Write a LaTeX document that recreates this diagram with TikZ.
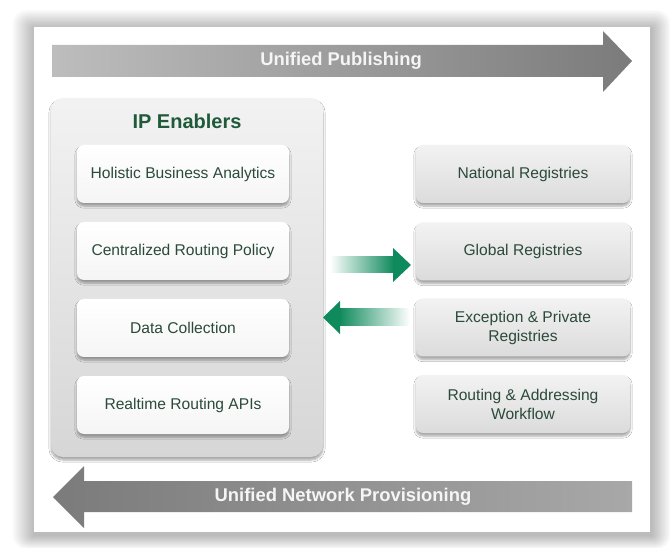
\documentclass[tikz,border=0pt]{standalone}
\usepackage{fontspec}
\setmainfont{Liberation Sans}
\usetikzlibrary{shadows.blur}
\definecolor{boxtext}{HTML}{2B4A3A}
\definecolor{titlegreen}{HTML}{1F5A3A}
\definecolor{arrgreen}{HTML}{0E8A5C}
\definecolor{barlight}{HTML}{BDBDBD}
\definecolor{bardark}{HTML}{7B7B7B}
\definecolor{barmid}{HTML}{A8A8A8}
\tikzset{
  softshadow/.style={blur shadow={shadow xshift=0pt, shadow yshift=-3pt, shadow blur radius=2.2pt, shadow blur steps=6, shadow opacity=35}},
  whitebox/.style={rounded corners=7pt, minimum width=212pt, minimum height=58pt,
    top color=white, bottom color=white!96!black, softshadow,
    text=boxtext, font=\fontsize{15.6}{19}\selectfont, align=center},
  graybox/.style={rounded corners=7pt, minimum width=214pt, minimum height=58pt,
    top color=white!95!black, bottom color=white!86!black, softshadow,
    text=boxtext, font=\fontsize{15.6}{19}\selectfont, align=center},
  panel/.style={rounded corners=12pt, minimum width=272pt, minimum height=359pt,
    top color=white!95!black, bottom color=white!84!black, softshadow},
  bartext/.style={text=white!96!black, font=\bfseries\fontsize{18.4}{21}\selectfont},
  titletext/.style={text=titlegreen, font=\bfseries\fontsize{20}{24}\selectfont}
}
\begin{document}
\begin{tikzpicture}[x=1pt,y=-1pt]
\useasboundingbox (0,0) rectangle (670,548);
\fill[white] (0,0) rectangle (670,548);
% outer soft shadow of the card
\foreach \i in {1,...,14} {
  \fill[black, opacity=0.02, rounded corners=\i pt] (35-\i*1.6, 29-\i*1.35) rectangle (651+\i*1.4, 535+\i*1.0);
}
\fill[white] (34,27) rectangle (650,532);
% top bar arrow
\shade[left color=barlight, right color=bardark] (52,45) -- (603,45) -- (603,31) -- (632,61) -- (603,92) -- (603,77) -- (52,77) -- cycle;
\node[bartext] (pub) at (341,61) {Unified Publishing};
% bottom bar arrow
\shade[left color=bardark, right color=barmid] (632,481) -- (84,481) -- (84,466) -- (53,497) -- (84,528) -- (84,512) -- (632,512) -- cycle;
\node[bartext] (prov) at (343,497) {Unified Network Provisioning};
% IP Enablers panel
\node[panel] (ipe) at (187,277.5) {};
\node[titletext] (ipet) at (187,121) {IP Enablers};
\node[whitebox] (hba) at (183,174) {Holistic Business Analytics};
\node[whitebox] (crp) at (183,251) {Centralized Routing Policy};
\node[whitebox] (dc)  at (183,328) {Data Collection};
\node[whitebox] (rra) at (183,405) {Realtime Routing APIs};
% registries
\node[graybox] (nr) at (523,174) {National Registries};
\node[graybox] (gr) at (523,251.5) {Global Registries};
\node[graybox] (ep) at (523,327.5) {Exception \& Private\\Registries};
\node[graybox] (ra) at (523,404) {Routing \& Addressing\\Workflow};
% green arrows
\shade[left color=white, right color=arrgreen] (330,257) rectangle (394,273);
\fill[arrgreen] (393,248) -- (411,265) -- (393,282) -- cycle;
\shade[left color=arrgreen, right color=white] (339,309) rectangle (410,326);
\fill[arrgreen] (340,301) -- (323,317.5) -- (340,334) -- cycle;
\end{tikzpicture}
\end{document}
